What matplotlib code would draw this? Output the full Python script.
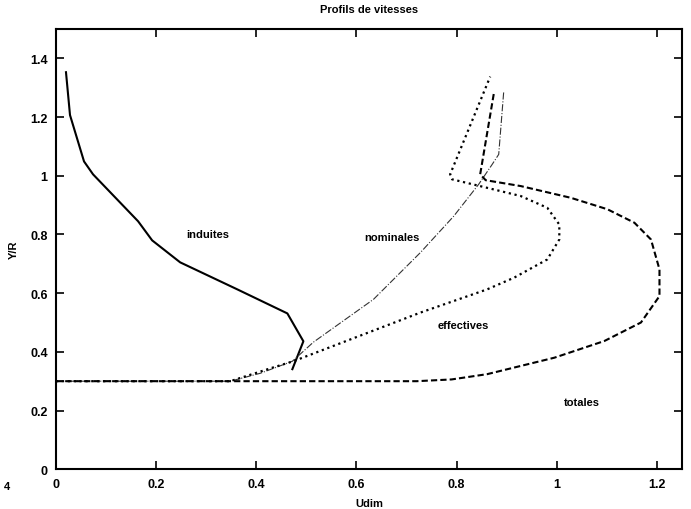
import matplotlib.pyplot as plt

plt.rcParams['font.family'] = ['Liberation Sans', 'DejaVu Sans']
plt.rcParams['font.weight'] = 'bold'

# velocity profiles (Udim vs Y/R)
induites_u = [0.020, 0.028, 0.056, 0.074, 0.164, 0.192, 0.248, 0.362, 0.462, 0.494, 0.472]
induites_y = [1.353, 1.207, 1.049, 1.005, 0.845, 0.780, 0.705, 0.613, 0.531, 0.436, 0.341]

nominales_u = [0.0, 0.348, 0.408, 0.472, 0.514, 0.634, 0.728, 0.794, 0.844, 0.871, 0.884, 0.894]
nominales_y = [0.300, 0.300, 0.327, 0.368, 0.433, 0.579, 0.739, 0.862, 0.971, 1.039, 1.073, 1.287]

effectives_u = [0.0, 0.348, 0.434, 0.474, 0.728, 0.861, 0.915, 0.981, 1.005, 1.005,
                0.981, 0.928, 0.861, 0.791, 0.787, 0.867]
effectives_y = [0.300, 0.300, 0.347, 0.368, 0.534, 0.613, 0.653, 0.715, 0.783, 0.834,
                0.891, 0.931, 0.959, 0.988, 1.005, 1.338]

totales_u = [0.0, 0.720, 0.790, 0.861, 0.995, 1.095, 1.168, 1.205, 1.205, 1.188, 1.155,
             1.101, 1.028, 0.928, 0.858, 0.847, 0.875]
totales_y = [0.300, 0.300, 0.306, 0.324, 0.380, 0.437, 0.500, 0.590, 0.681, 0.783, 0.840,
             0.886, 0.925, 0.965, 0.985, 1.005, 1.288]

x_ticks = [0, 0.2, 0.4, 0.6, 0.8, 1, 1.2]
y_ticks = [0, 0.2, 0.4, 0.6, 0.8, 1, 1.2, 1.4]

fig = plt.figure(figsize=(6.91, 5.10), dpi=100)
ax = fig.add_axes([0.081, 0.078, 0.906, 0.863])

ax.plot(induites_u, induites_y, '-', color='black', linewidth=1.5)
ax.plot(nominales_u, nominales_y, '-.', color='#333333', linewidth=0.8)
ax.plot(effectives_u, effectives_y, ':', color='black', linewidth=1.6)
ax.plot(totales_u, totales_y, '--', color='black', linewidth=1.5, dashes=(3, 1.5))

ax.text(0.304, 0.80, 'induites', ha='center', va='center', fontsize=8)
ax.text(0.671, 0.79, 'nominales', ha='center', va='center', fontsize=8)
ax.text(0.814, 0.49, 'effectives', ha='center', va='center', fontsize=8)
ax.text(1.050, 0.23, 'totales', ha='center', va='center', fontsize=8)

ax.set_xlim(0, 1.25)
ax.set_ylim(0, 1.5)
ax.set_xticks(x_ticks)
ax.set_xticklabels(['0', '0.2', '0.4', '0.6', '0.8', '1', '1.2'])
ax.set_yticks(y_ticks)
ax.set_yticklabels(['0', '0.2', '0.4', '0.6', '0.8', '1', '1.2', '1.4'])
ax.tick_params(direction='in', top=True, right=True, length=6, width=1.2,
               labelsize=9, pad=6)
for s in ax.spines.values():
    s.set_linewidth(1.5)

ax.set_title('Profils de vitesses', fontsize=8, fontweight='bold', pad=12)
ax.set_xlabel('Udim', fontsize=8, fontweight='bold', labelpad=6)
ax.set_ylabel('Y/R', fontsize=8, fontweight='bold', labelpad=8)

fig.text(0.005, 0.04, '4', fontsize=8)

fig.savefig('out.png', dpi=100)
